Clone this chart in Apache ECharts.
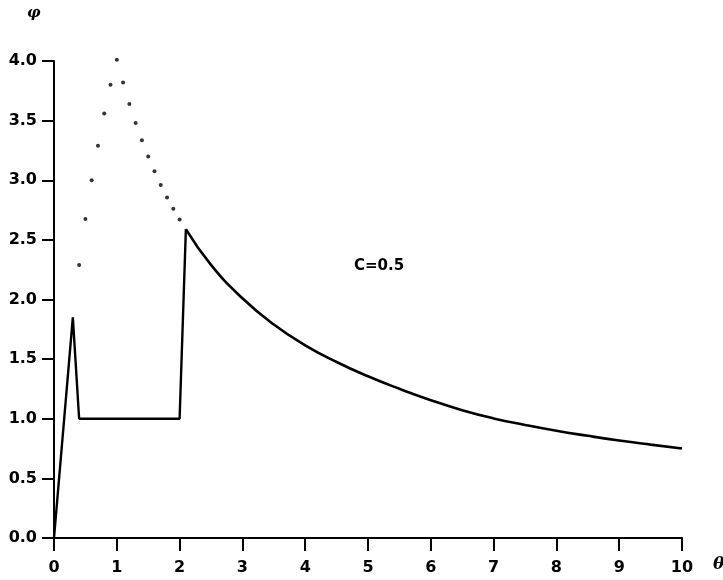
<!DOCTYPE html>
<html>
<head>
<meta charset="utf-8">
<script src="https://cdn.jsdelivr.net/npm/echarts@6/dist/echarts.min.js"></script>
<style>
  html, body { margin: 0; padding: 0; background: #fff; }
  #chart { width: 723px; height: 580px; }
</style>
</head>
<body>
<div id="chart"></div>
<script>
// Piecewise response: rise, drop to plateau, jump, then decay
const jumpTheta = [0, 0.3, 0.4, 2.0, 2.1];
const jumpPhi   = [0, 1.85, 1.0, 1.0, 2.59];

const decayTheta = [2.1, 2.5, 3.0, 3.5, 4.0, 4.5, 5.0, 5.5, 6.0, 6.5, 7.0, 7.5, 8.0, 8.5, 9.0, 9.5, 10.0];
const decayPhi   = [2.59, 2.29, 2.01, 1.79, 1.616, 1.476, 1.356, 1.251, 1.156, 1.072, 1.003, 0.948, 0.899, 0.857, 0.818, 0.783, 0.75];

// Dotted branch
const dotTheta = [0.4, 0.5, 0.6, 0.7, 0.8, 0.9, 1.0, 1.1, 1.2, 1.3, 1.4, 1.5, 1.6, 1.7, 1.8, 1.9, 2.0];
const dotPhi   = [2.29, 2.675, 3.0, 3.29, 3.56, 3.80, 4.01, 3.82, 3.64, 3.48, 3.335, 3.20, 3.075, 2.96, 2.855, 2.76, 2.67];

const xTicks = [0, 1, 2, 3, 4, 5, 6, 7, 8, 9, 10];
const yTicks = [0, 0.5, 1.0, 1.5, 2.0, 2.5, 3.0, 3.5, 4.0];

const pair = (xs, ys) => xs.map((x, i) => [x, ys[i]]);

const labelFont = {
  color: '#000',
  fontFamily: 'DejaVu Sans',
  fontWeight: 'bold',
  fontSize: 16
};

const chart = echarts.init(document.getElementById('chart'), null, { renderer: 'canvas' });

chart.setOption({
  backgroundColor: '#fff',
  animation: false,
  grid: { left: 54, right: 41, top: 61, bottom: 42, containLabel: false },
  xAxis: {
    type: 'value',
    min: xTicks[0],
    max: xTicks[xTicks.length - 1],
    interval: 1,
    axisLine: { show: true, onZero: false, lineStyle: { color: '#000', width: 2 } },
    axisTick: { show: true, length: 13, lineStyle: { color: '#000', width: 2 } },
    axisLabel: Object.assign({ margin: 22 }, labelFont),
    splitLine: { show: false }
  },
  yAxis: {
    type: 'value',
    min: yTicks[0],
    max: yTicks[yTicks.length - 1],
    interval: 0.5,
    axisLine: { show: true, onZero: false, lineStyle: { color: '#000', width: 2 } },
    axisTick: { show: true, length: 12, lineStyle: { color: '#000', width: 2 } },
    axisLabel: Object.assign({ margin: 17, formatter: v => v.toFixed(1) }, labelFont),
    splitLine: { show: false }
  },
  graphic: [
    {
      type: 'text', left: 27, top: 6,
      style: { text: 'φ', fill: '#000', font: 'italic bold 15px "DejaVu Serif"' }
    },
    {
      type: 'text', left: 713, top: 556,
      style: { text: 'θ', fill: '#000', font: 'italic bold 17px "DejaVu Serif"' }
    },
    {
      type: 'text', left: 354, top: 259,
      style: { text: 'C=0.5', fill: '#000', font: 'bold 15px "DejaVu Sans"' }
    }
  ],
  series: [
    {
      type: 'line',
      data: pair(jumpTheta, jumpPhi),
      showSymbol: false,
      lineStyle: { color: '#000', width: 2.4 },
      z: 3
    },
    {
      type: 'line',
      data: pair(decayTheta, decayPhi),
      smooth: 0.5,
      showSymbol: false,
      lineStyle: { color: '#000', width: 2.6 },
      z: 3
    },
    {
      type: 'scatter',
      data: pair(dotTheta, dotPhi),
      clip: false,
      symbol: 'circle',
      symbolSize: 4,
      itemStyle: { color: '#000' },
      z: 4
    }
  ]
});
</script>
</body>
</html>
